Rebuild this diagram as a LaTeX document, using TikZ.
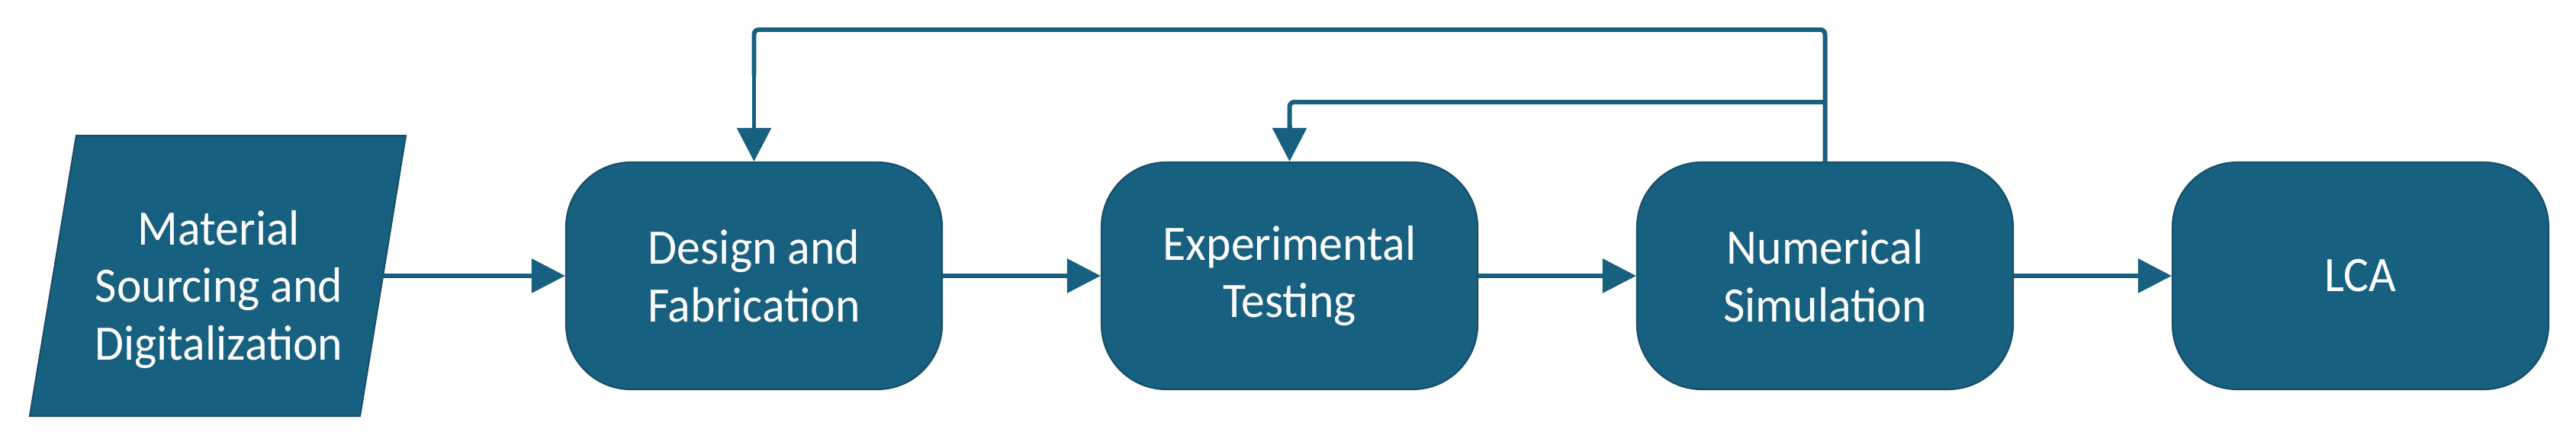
\documentclass[tikz,border=0pt]{standalone}
\usepackage{fontspec}
\setmainfont{Carlito}[FakeStretch=0.95]
\usetikzlibrary{arrows.meta,calc}
\definecolor{boxfill}{HTML}{17607F}
\definecolor{boxedge}{HTML}{184E69}
\definecolor{linecol}{HTML}{17607F}
\begin{document}
\begin{tikzpicture}[
  every node/.style={font=\fontsize{18.5}{21.5}\selectfont, text=white, align=center},
  stagebox/.style={draw=boxedge, fill=boxfill, line width=0.6pt, rounded corners=0.85cm,
     minimum width=4.93cm, minimum height=2.98cm, inner sep=0pt},
  shapefill/.style={draw=boxedge, fill=boxfill, line width=0.6pt},
  flow/.style={draw=linecol, line width=1.7pt, -{Triangle[length=0.44cm,width=0.44cm]}},
  fbline/.style={draw=linecol, line width=1.7pt, rounded corners=0.06cm}
]
\useasboundingbox (0,0) rectangle (33.77,-5.84);
% parallelogram
\coordinate (p1) at (0.39,-5.46);
\coordinate (p2) at (1.00,-1.78);
\coordinate (p3) at (5.32,-1.78);
\coordinate (p4) at (4.72,-5.46);
\path[shapefill] (p1) -- (p2) -- (p3) -- (p4) -- cycle;
\node (msd) at (2.87,-3.80) {Material\\Sourcing and\\Digitalization};
\coordinate (msdout) at ($(p3)!0.5!(p4)$);
% stages
\node[stagebox] (dfab) at (9.885,-3.62) {Design and\\Fabrication};
\node[stagebox] (exptest) at (16.905,-3.62) {Experimental\\Testing};
\node[stagebox] (numsim) at (23.925,-3.62) {Numerical\\Simulation};
\node[stagebox] (lca) at (30.945,-3.62) {LCA};
% forward arrows
\draw[flow] (msdout) -- (dfab.west);
\draw[flow] (dfab.east) -- (exptest.west);
\draw[flow] (exptest.east) -- (numsim.west);
\draw[flow] (numsim.east) -- (lca.west);
% feedback
\coordinate (fbtop) at (0,-0.39);
\coordinate (fbmid) at (0,-1.34);
\draw[fbline] (numsim.north) -- (numsim.north |- fbtop) -- (dfab.north |- fbtop) -- ($(dfab.north |- fbtop)+(0,-0.6)$);
\draw[flow] ($(dfab.north |- fbtop)+(0,-0.5)$) -- (dfab.north);
\draw[fbline] (numsim.north |- fbmid) -- (exptest.north |- fbmid) -- ($(exptest.north |- fbmid)+(0,-0.4)$);
\draw[flow] ($(exptest.north |- fbmid)+(0,-0.3)$) -- (exptest.north);
\end{tikzpicture}
\end{document}
